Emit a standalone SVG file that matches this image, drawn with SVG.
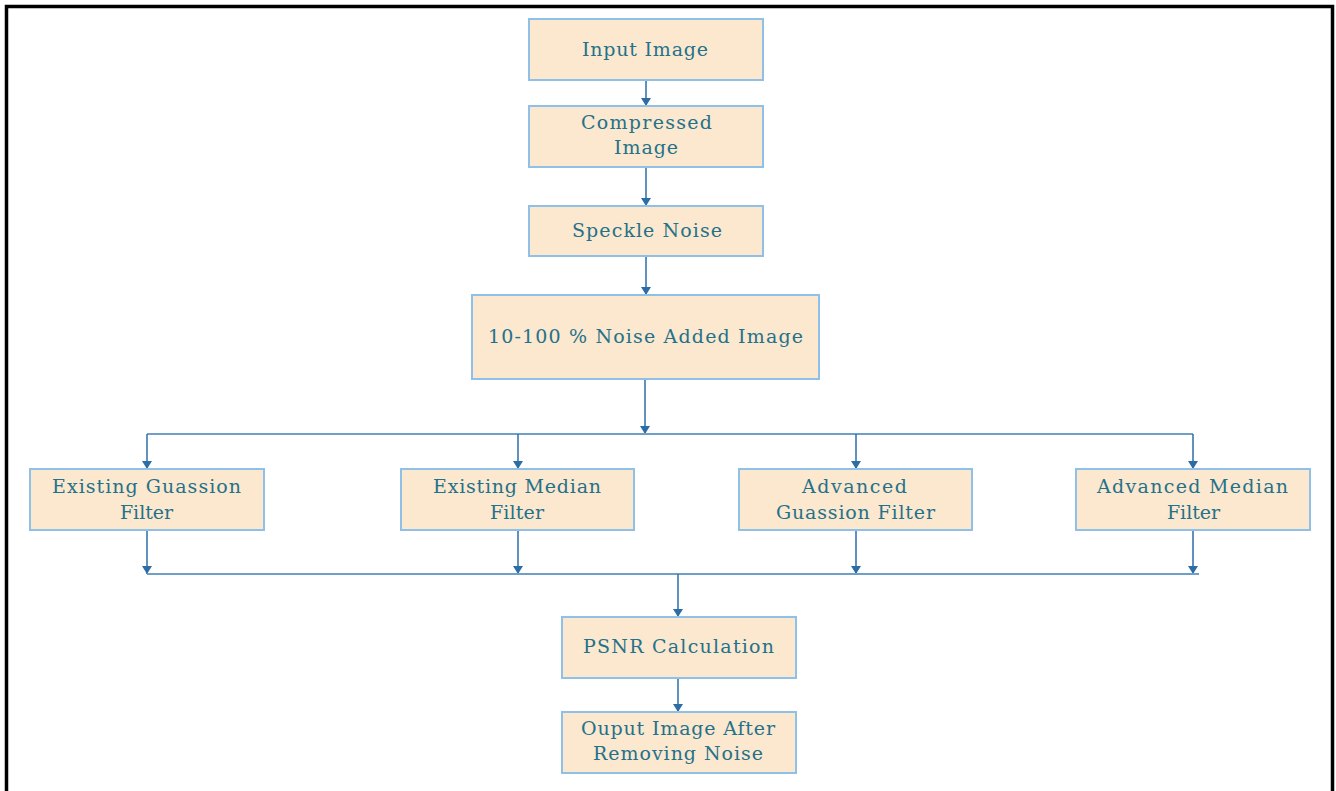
<svg xmlns="http://www.w3.org/2000/svg" width="1336" height="791" viewBox="0 0 1336 791">
<defs>
<marker id="ah" markerUnits="userSpaceOnUse" markerWidth="9" markerHeight="10" refX="8" refY="5" orient="auto" viewBox="0 0 9 10">
<path d="M0,0 L8,5 L0,10 Z" fill="#2e6da4"/>
</marker>
<style>
.box{fill:#fce7cf;stroke:#8ec0e8;stroke-width:2}
.t{font-family:"DejaVu Serif","Liberation Serif","Times New Roman",serif;font-size:19px;fill:#23728a;text-anchor:start}
.h{fill:none;stroke:#6f9fc6;stroke-width:2}
.v{fill:none;stroke:#3777b0;stroke-width:1.6}
</style>
</defs>
<rect x="0" y="0" width="1336" height="791" fill="#ffffff"/>
<path d="M6.5,791 L6.5,6.5 L1332.5,6.5 L1332.5,791" fill="none" stroke="#000000" stroke-width="3.5"/>

<g id="connectors">
<line class="v" x1="646" y1="80" x2="646" y2="106" marker-end="url(#ah)"/>
<line class="v" x1="646" y1="167" x2="646" y2="206" marker-end="url(#ah)"/>
<line class="v" x1="646" y1="256" x2="646" y2="295" marker-end="url(#ah)"/>
<line class="v" x1="645" y1="379" x2="645" y2="434" marker-end="url(#ah)"/>
<line class="h" x1="147" y1="434" x2="1193" y2="434"/>
<line class="v" x1="147" y1="434" x2="147" y2="469" marker-end="url(#ah)"/>
<line class="v" x1="518" y1="434" x2="518" y2="469" marker-end="url(#ah)"/>
<line class="v" x1="856" y1="434" x2="856" y2="469" marker-end="url(#ah)"/>
<line class="v" x1="1193" y1="434" x2="1193" y2="469" marker-end="url(#ah)"/>
<line class="v" x1="147" y1="530" x2="147" y2="574" marker-end="url(#ah)"/>
<line class="v" x1="518" y1="530" x2="518" y2="574" marker-end="url(#ah)"/>
<line class="v" x1="856" y1="530" x2="856" y2="574" marker-end="url(#ah)"/>
<line class="v" x1="1193" y1="530" x2="1193" y2="574" marker-end="url(#ah)"/>
<line class="h" x1="147" y1="574" x2="1199" y2="574"/>
<line class="v" x1="678" y1="574" x2="678" y2="617" marker-end="url(#ah)"/>
<line class="v" x1="678" y1="678" x2="678" y2="712" marker-end="url(#ah)"/>
</g>

<g id="input-image">
<rect class="box" x="529" y="19" width="234" height="61"/>
<text class="t" x="582" y="56" textLength="126" lengthAdjust="spacing">Input Image</text>
</g>
<g id="compressed-image">
<rect class="box" x="529" y="106" width="234" height="61"/>
<text class="t" x="581" y="129" textLength="131" lengthAdjust="spacing">Compressed</text>
<text class="t" x="614" y="154" textLength="64" lengthAdjust="spacing">Image</text>
</g>
<g id="speckle-noise">
<rect class="box" x="529" y="206" width="234" height="50"/>
<text class="t" x="572" y="237" textLength="150" lengthAdjust="spacing">Speckle Noise</text>
</g>
<g id="noise-added">
<rect class="box" x="472" y="295" width="347" height="84"/>
<text class="t" x="488" y="343" textLength="315" lengthAdjust="spacing">10-100 % Noise Added Image</text>
</g>
<g id="existing-guassion">
<rect class="box" x="30" y="469" width="234" height="61"/>
<text class="t" x="52" y="493" textLength="189" lengthAdjust="spacing">Existing Guassion</text>
<text class="t" x="120" y="519" textLength="53" lengthAdjust="spacing">Filter</text>
</g>
<g id="existing-median">
<rect class="box" x="401" y="469" width="233" height="61"/>
<text class="t" x="433" y="493" textLength="168" lengthAdjust="spacing">Existing Median</text>
<text class="t" x="490" y="519" textLength="54" lengthAdjust="spacing">Filter</text>
</g>
<g id="advanced-guassion">
<rect class="box" x="739" y="469" width="233" height="61"/>
<text class="t" x="802" y="493" textLength="105" lengthAdjust="spacing">Advanced</text>
<text class="t" x="776" y="519" textLength="159" lengthAdjust="spacing">Guassion Filter</text>
</g>
<g id="advanced-median">
<rect class="box" x="1076" y="469" width="234" height="61"/>
<text class="t" x="1097" y="493" textLength="191" lengthAdjust="spacing">Advanced Median</text>
<text class="t" x="1167" y="519" textLength="53" lengthAdjust="spacing">Filter</text>
</g>
<g id="psnr">
<rect class="box" x="562" y="617" width="234" height="61"/>
<text class="t" x="583" y="653" textLength="191" lengthAdjust="spacing">PSNR Calculation</text>
</g>
<g id="output-image">
<rect class="box" x="562" y="712" width="234" height="61"/>
<text class="t" x="581" y="735" textLength="194" lengthAdjust="spacing">Ouput Image After</text>
<text class="t" x="593" y="760" textLength="170" lengthAdjust="spacing">Removing Noise</text>
</g>
</svg>
